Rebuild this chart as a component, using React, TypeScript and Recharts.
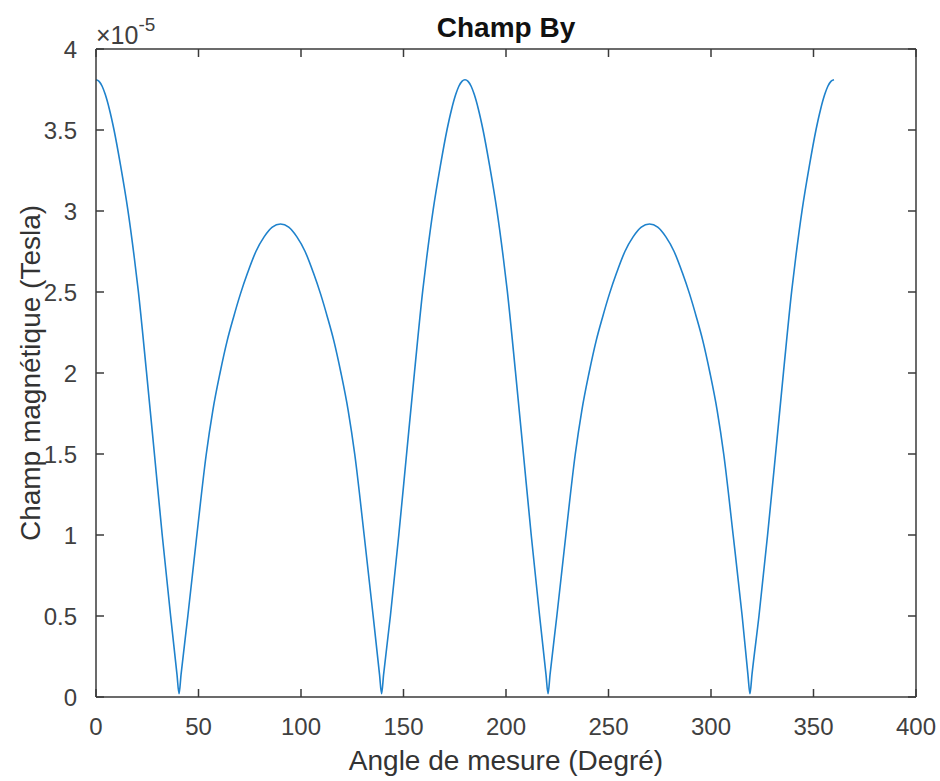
import { LineChart, Line, XAxis, YAxis } from "recharts"

// angle de mesure (degrés)
const angles = [
  0, 1.5, 3, 4.5, 6.5, 8.8, 12, 15.5, 18.7, 20.6, 24.6, 28.5, 32.3, 36.4, 39.5,
  40.5, 41.5, 44.8, 49.2, 53.8, 57, 60.5, 64, 67, 70.5, 74, 78, 82, 86, 90, 94,
  98, 102, 106, 109.5, 113, 116, 119.5, 123, 126.2, 130.8, 135.2, 138.3, 139.3,
  140.3, 143.6, 147.7, 151.5, 155.4, 159.4, 161.3, 164.5, 168, 171.2, 173.5,
  175.5, 177, 178.5, 180, 181.5, 183, 184.5, 186.5, 188.8, 192, 195.5, 198.7,
  200.6, 204.6, 208.5, 212.3, 216.4, 219.5, 220.5, 221.5, 224.8, 229.2, 233.8,
  237, 240.5, 244, 247, 250.5, 254, 258, 262, 266, 270, 274, 278, 282, 286,
  289.5, 293, 296, 299.5, 303, 306.2, 310.8, 315.2, 318, 319, 320, 323.4,
  327.6, 331.5, 335.4, 339.4, 341.3, 344.5, 348, 351.2, 353.5, 355.5, 357,
  358.5, 360,
]

// champ By en unités de 1e-5 Tesla
const byE5 = [
  3.81, 3.8, 3.77, 3.72, 3.63, 3.5, 3.28, 3.01, 2.71, 2.51, 2.01, 1.5, 1.0,
  0.5, 0.14, 0.02, 0.14, 0.5, 1.0, 1.5, 1.77, 2.0, 2.2, 2.34, 2.49, 2.62, 2.75,
  2.84, 2.9, 2.92, 2.9, 2.84, 2.75, 2.62, 2.49, 2.34, 2.2, 2.0, 1.77, 1.5, 1.0,
  0.5, 0.14, 0.02, 0.14, 0.5, 1.0, 1.5, 2.01, 2.51, 2.71, 3.01, 3.28, 3.5,
  3.63, 3.72, 3.77, 3.8, 3.81, 3.8, 3.77, 3.72, 3.63, 3.5, 3.28, 3.01, 2.71,
  2.51, 2.01, 1.5, 1.0, 0.5, 0.14, 0.02, 0.14, 0.5, 1.0, 1.5, 1.77, 2.0, 2.2,
  2.34, 2.49, 2.62, 2.75, 2.84, 2.9, 2.92, 2.9, 2.84, 2.75, 2.62, 2.49, 2.34,
  2.2, 2.0, 1.77, 1.5, 1.0, 0.5, 0.14, 0.02, 0.14, 0.5, 1.0, 1.5, 2.01, 2.51,
  2.71, 3.01, 3.28, 3.5, 3.63, 3.72, 3.77, 3.8, 3.81,
]

const xTicks = [0, 50, 100, 150, 200, 250, 300, 350, 400]
const yTicks = [0, 0.5, 1, 1.5, 2, 2.5, 3, 3.5, 4]

const rows = angles.map((a, i) => ({ angle: a, by: byE5[i] }))

const axisColor = "#3a3a3a"
const textColor = "#404040"
const font = '"Liberation Sans", Arial, Helvetica, sans-serif'
const tickLen = 8
const noLabel = () => <g />

export default function App() {
  return (
    <div
      style={{
        position: "absolute",
        left: 0,
        top: 0,
        width: 940,
        height: 781,
        background: "#fff",
        fontFamily: font,
      }}
    >
      <LineChart
        width={940}
        height={781}
        data={rows}
        margin={{ top: 49, right: 24, bottom: 0, left: 0 }}
      >
        {/* axes avec les étiquettes */}
        <XAxis
          dataKey="angle"
          type="number"
          domain={[0, 400]}
          ticks={xTicks}
          height={84}
          tickLine={false}
          tickMargin={15}
          stroke={axisColor}
          strokeWidth={1.5}
          tick={{ fill: textColor, fontSize: 24, fontFamily: font }}
          label={{
            value: "Angle de mesure (Degré)",
            position: "insideBottom",
            offset: 11,
            fill: "#333",
            fontSize: 28,
            fontFamily: font,
          }}
        />
        <YAxis
          type="number"
          domain={[0, 4]}
          ticks={yTicks}
          width={96}
          tickLine={false}
          tickMargin={13}
          stroke={axisColor}
          strokeWidth={1.5}
          tick={{ fill: textColor, fontSize: 24, fontFamily: font }}
          label={{
            value: "Champ magnétique (Tesla)",
            angle: -90,
            position: "insideLeft",
            offset: 30,
            fill: "#333",
            fontSize: 28,
            fontFamily: font,
            style: { textAnchor: "middle" },
          }}
        />
        {/* graduations intérieures sur les quatre côtés (boîte) */}
        <XAxis
          xAxisId="bottomTicks"
          orientation="bottom"
          mirror
          dataKey="angle"
          type="number"
          domain={[0, 400]}
          ticks={xTicks}
          tickSize={tickLen}
          tick={noLabel}
          axisLine={false}
          stroke={axisColor}
          strokeWidth={1.5}
        />
        <XAxis
          xAxisId="top"
          orientation="top"
          mirror
          dataKey="angle"
          type="number"
          domain={[0, 400]}
          ticks={xTicks}
          tickSize={tickLen}
          tick={noLabel}
          stroke={axisColor}
          strokeWidth={1.5}
        />
        <YAxis
          yAxisId="leftTicks"
          orientation="left"
          mirror
          type="number"
          domain={[0, 4]}
          ticks={yTicks}
          tickSize={tickLen}
          tick={noLabel}
          axisLine={false}
          stroke={axisColor}
          strokeWidth={1.5}
        />
        <YAxis
          yAxisId="right"
          orientation="right"
          mirror
          type="number"
          domain={[0, 4]}
          ticks={yTicks}
          tickSize={tickLen}
          tick={noLabel}
          stroke={axisColor}
          strokeWidth={1.5}
        />
        {/* séries invisibles : rattachent les axes de graduation à des données */}
        <Line
          xAxisId="top"
          yAxisId="leftTicks"
          dataKey="by"
          stroke="none"
          dot={false}
          legendType="none"
          isAnimationActive={false}
        />
        <Line
          xAxisId="bottomTicks"
          yAxisId="right"
          dataKey="by"
          stroke="none"
          dot={false}
          legendType="none"
          isAnimationActive={false}
        />
        <Line
          type="monotone"
          dataKey="by"
          stroke="#1f82cc"
          strokeWidth={1.6}
          dot={false}
          isAnimationActive={false}
        />
      </LineChart>
      <svg
        width={940}
        height={60}
        style={{ position: "absolute", left: 0, top: 0, pointerEvents: "none" }}
      >
        <text
          x={506}
          y={37}
          textAnchor="middle"
          fontSize={28}
          fontWeight="bold"
          fill="#111"
          fontFamily={font}
        >
          Champ By
        </text>
        <text x={96} y={44} fontSize={25} fill={textColor} fontFamily={font}>
          ×10
          <tspan dy={-13} fontSize={19}>
            -5
          </tspan>
        </text>
      </svg>
    </div>
  )
}
